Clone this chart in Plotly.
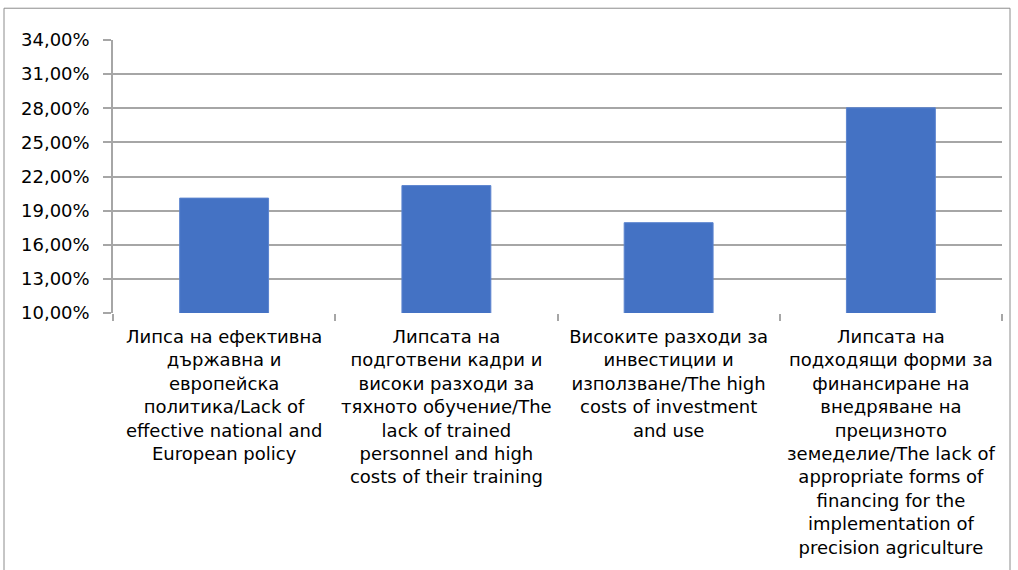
import plotly.graph_objects as go

categories = [
    "Липса на ефективна<br>държавна и<br>европейска<br>политика/Lack of<br>effective national and<br>European policy",
    "Липсата на<br>подготвени кадри и<br>високи разходи за<br>тяхното обучение/The<br>lack of trained<br>personnel and high<br>costs of their training",
    "Високите разходи за<br>инвестиции и<br>използване/The high<br>costs of investment<br>and use",
    "Липсата на<br>подходящи форми за<br>финансиране на<br>внедряване на<br>прецизното<br>земеделие/The lack of<br>appropriate forms of<br>financing for the<br>implementation of<br>precision agriculture",
]
values = [0.2010, 0.2120, 0.1794, 0.2804]
y_ticks = [0.10, 0.13, 0.16, 0.19, 0.22, 0.25, 0.28, 0.31, 0.34]

W, H = 1018, 570
L, R, T, B = 113, 16, 40, 255
pw, ph = W - L - R, H - T - B

def px_x(p):
    return (p - L) / pw

def px_y(p):
    return (H - B - p) / ph

fig = go.Figure(go.Bar(
    x=categories, y=values,
    marker=dict(color="#4472C4", line=dict(color="#5b84cf", width=1)),
    width=0.4,
))

font = dict(family="DejaVu Sans", size=18, color="#000000")

fig.update_layout(
    width=W, height=H,
    margin=dict(l=L, r=R, t=T, b=B, pad=0),
    paper_bgcolor="white", plot_bgcolor="white",
    separators=",.",
    showlegend=False,
    font=font,
    xaxis=dict(
        tickson="boundaries", ticks="outside", ticklen=7, tickcolor="#a6a6a6",
        tickwidth=1.5,
        showgrid=False, showline=False, tickangle=0,
        tickfont=font, ticklabelstandoff=11,
    ),
    yaxis=dict(
        range=[0.10, 0.34], tickvals=y_ticks, tickformat=".2%",
        showgrid=True, gridcolor="#a6a6a6", gridwidth=1.5,
        showline=True, linecolor="#a6a6a6", linewidth=1.5,
        ticks="outside", ticklen=8, tickcolor="#a6a6a6", tickwidth=1.5,
        tickfont=font, ticklabelstandoff=10, zeroline=False,
    ),
    shapes=[dict(
        type="rect", xref="paper", yref="paper",
        x0=px_x(4), x1=px_x(1010), y0=px_y(8), y1=px_y(580),
        line=dict(color="#8c8c8c", width=1), layer="below",
    )],
)

fig.write_html("out.html")
